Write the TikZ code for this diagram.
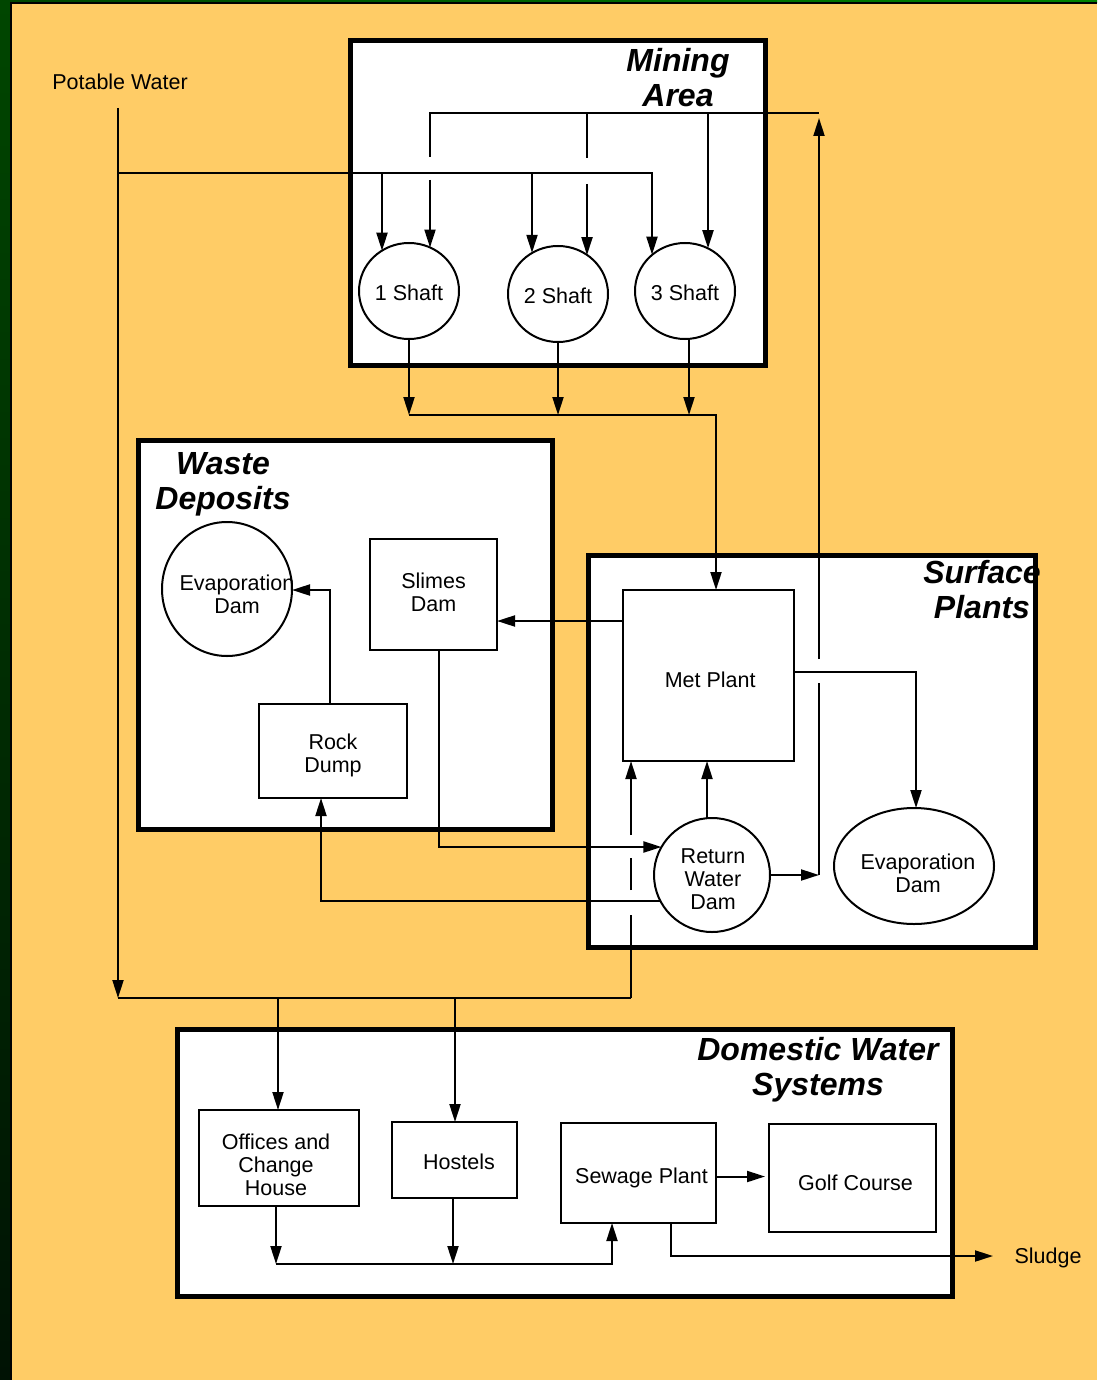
\documentclass[tikz,border=0pt]{standalone}
\usepackage{fontspec}
\setmainfont{Liberation Sans}
\usetikzlibrary{arrows.meta,shapes.geometric}
\definecolor{sheet}{RGB}{255,204,102}
\definecolor{rimtop}{RGB}{0,70,0}
\definecolor{rimbottom}{RGB}{0,18,4}
\definecolor{rimright}{RGB}{0,130,0}
\begin{document}
\begin{tikzpicture}[x=1pt,y=-1pt,
  region/.style={draw=black,line width=5pt,fill=white},
  heading/.style={font=\fontsize{32}{35}\selectfont\bfseries\itshape,align=center,inner sep=0pt,anchor=base},
  lbl/.style={font=\fontsize{21.5}{23}\selectfont,align=center,inner sep=0pt},
  unit/.style={rectangle,draw=black,line width=2pt,fill=white,outer sep=0pt,inner sep=0pt},
  dam/.style={ellipse,draw=black,line width=2pt,fill=white,outer sep=0pt,inner sep=0pt},
  flow/.style={line width=2pt,draw=black},
  arr/.style={flow,-{Triangle[length=18pt,width=11pt]}}]

% sheet and frame edges
\fill[sheet] (0,0) rectangle (1097,1380);
\shade[top color=rimtop,bottom color=rimbottom] (0,0) rectangle (10,1380);
\fill[black] (10,0) rectangle (12,1380);
\shade[left color=rimtop,right color=rimright] (0,0) rectangle (1097,2.5);
\fill[black] (10,2.5) rectangle (1097,3.6);

% area frames
\draw[region] (350.5,40.5) rectangle (765.5,365.5);
\draw[region] (138.5,440.5) rectangle (552.5,829.5);
\draw[region] (588.5,555) rectangle (1035.5,947.5);
\draw[region] (177,1029) rectangle (952,1296.5);

% area headings (anchored on the baseline of the last line)
\node[heading] (hmine) at (678,107) {Mining\\Area};
\node[heading] (hwaste) at (223,509) {Waste\\Deposits};
\node[heading] (hsurf) at (982,618) {Surface\\Plants};
\node[heading] (hdom) at (818,1095) {Domestic Water\\Systems};

% free labels
\node[lbl,anchor=base] (potable) at (120,90) {Potable Water};
\node[lbl,anchor=base] (sludge) at (1048,1263) {Sludge};

% mining area
\node[dam,minimum width=100pt,minimum height=96pt,
  label={[lbl,yshift=-2pt]center:1 Shaft}] (s1) at (409,291) {};
\node[dam,minimum width=100pt,minimum height=96pt,
  label={[lbl,yshift=-2pt]center:2 Shaft}] (s2) at (558,294) {};
\node[dam,minimum width=100pt,minimum height=96pt,
  label={[lbl,yshift=-2pt]center:3 Shaft}] (s3) at (685,291) {};

% waste deposits
\node[dam,minimum width=130pt,minimum height=134pt,
  label={[lbl,xshift=10pt,yshift=-5pt]center:Evaporation\\Dam}] (evw) at (227,589) {};
\node[unit,minimum width=127pt,minimum height=111pt,
  label={[lbl,yshift=2.5pt]center:Slimes\\Dam}] (sd) at (433.5,594.5) {};
\node[unit,minimum width=148pt,minimum height=94pt,
  label={[lbl,yshift=-4pt]center:Rock\\Dump}] (rd) at (333,751) {};

% surface plants
\node[unit,minimum width=171pt,minimum height=171pt,
  label={[lbl,xshift=2pt,yshift=-4pt]center:Met Plant}] (mp) at (708.2,675.5) {};
\node[dam,minimum width=116pt,minimum height=114pt,
  label={[lbl,xshift=1pt,yshift=-4pt]center:Return\\Water\\Dam}] (rwd) at (712,875) {};
\node[dam,minimum width=160pt,minimum height=116pt,
  label={[lbl,xshift=4pt,yshift=-7pt]center:Evaporation\\Dam}] (evs) at (914,866) {};

% domestic water systems
\node[unit,minimum width=160pt,minimum height=96pt,
  label={[lbl,xshift=-3pt,yshift=-6.5pt]center:Offices and\\Change\\House}] (off) at (279,1158) {};
\node[unit,minimum width=125pt,minimum height=76pt,
  label={[lbl,xshift=4.5pt,yshift=-2pt]center:Hostels}] (hos) at (454.5,1160) {};
\node[unit,minimum width=155pt,minimum height=100pt,
  label={[lbl,xshift=3pt,yshift=-5pt]center:Sewage Plant}] (sew) at (638.5,1173) {};
\node[unit,minimum width=167pt,minimum height=108pt,
  label={[lbl,xshift=3pt,yshift=-5pt]center:Golf Course}] (golf) at (852.5,1178) {};

% potable water supply
\coordinate (pwtop) at (118,108);
\coordinate (pwfoot) at (118,998);
\coordinate (pwrow) at (118,173);
\coordinate (p1) at (382,173);
\coordinate (p2) at (532,173);
\coordinate (p3) at (652,173);
\draw[arr] (pwtop) -- (pwfoot);
\draw[arr] (pwrow) -- (p3) -- (p3 |- s3.132);
\draw[arr] (p1) -- (p1 |- s1.124);
\draw[arr] (p2) -- (p2 |- s2.122);

% return water to the shafts
\coordinate (ra) at (430,157);
\coordinate (rtop) at (430,113);
\coordinate (rend) at (819,113);
\coordinate (rb) at (430,180);
\coordinate (rc) at (587,113);
\coordinate (rd1) at (587,158);
\coordinate (re) at (587,184);
\coordinate (rf) at (708,113);
\coordinate (rv1) at (819,875);
\coordinate (rv2) at (819,683);
\coordinate (rv3) at (819,659);
\coordinate (rv4) at (819,118);
\draw[flow] (ra) -- (rtop) -- (rend);
\draw[flow] (rc) -- (rd1);
\draw[arr] (rb) -- (rb |- s1.64);
\draw[arr] (re) -- (re |- s2.53);
\draw[arr] (rf) -- (rf |- s3.62);
\draw[arr] (rwd.east) -- (rv1);
\draw[flow] (rv1) -- (rv2);
\draw[arr] (rv3) -- (rv4);

% shafts to the met plant
\coordinate (c1) at (409,415);
\coordinate (c2) at (558,415);
\coordinate (c3) at (689,415);
\coordinate (c4) at (716,415);
\draw[arr] (s1.south) -- (c1);
\draw[arr] (s2.south) -- (c2);
\draw[arr] (c3 |- s3.south) -- (c3);
\draw[arr] (c1) -- (c4) -- (c4 |- mp.north);

% met plant outflows
\coordinate (ys) at (0,621);
\draw[arr] (mp.west |- ys) -- (sd.east |- ys);
\coordinate (k1) at (916,672);
\draw[arr] (mp.east |- k1) -- (k1) -- (k1 |- evs.north);
\coordinate (u1) at (707,818);
\draw[arr] (u1 |- rwd.north) -- (u1 |- mp.south);

% potable feed to the met plant, broken at crossings
\coordinate (d0) at (631,998);
\coordinate (g1) at (631,915);
\coordinate (g2) at (631,890);
\coordinate (g3) at (631,858);
\coordinate (g4) at (631,835);
\draw[flow] (d0) -- (g1);
\draw[flow] (g2) -- (g3);
\draw[arr] (g4) -- (g4 |- mp.south);

% waste deposit links
\coordinate (h1) at (439,847);
\draw[arr] (h1 |- sd.south) -- (h1) -- (h1 -| rwd.151);
\coordinate (h2) at (321,901);
\draw[arr] (h2 -| rwd.207) -- (h2) -- (h2 |- rd.south);
\coordinate (h3) at (330,590);
\draw[arr] (h3 |- rd.north) -- (h3) -- (h3 -| evw.east);

% domestic supply
\coordinate (b1) at (278,998);
\coordinate (b2) at (455,998);
\draw[flow] (pwfoot) -- (d0);
\draw[arr] (b1) -- (b1 |- off.north);
\draw[arr] (b2) -- (b2 |- hos.north);

% domestic drainage
\coordinate (e1) at (276,1264);
\coordinate (e2) at (453,1264);
\coordinate (e3) at (612,1264);
\draw[arr] (e1 |- off.south) -- (e1);
\draw[arr] (e2 |- hos.south) -- (e2);
\draw[arr] (e1) -- (e3) -- (e3 |- sew.south);
\coordinate (yg) at (0,1176.5);
\draw[arr] (sew.east |- yg) -- ([xshift=-4pt]golf.west |- yg);
\coordinate (f1) at (671,1256);
\coordinate (f2) at (993,1256);
\draw[arr] (f1 |- sew.south) -- (f1) -- (f2);
\end{tikzpicture}
\end{document}
